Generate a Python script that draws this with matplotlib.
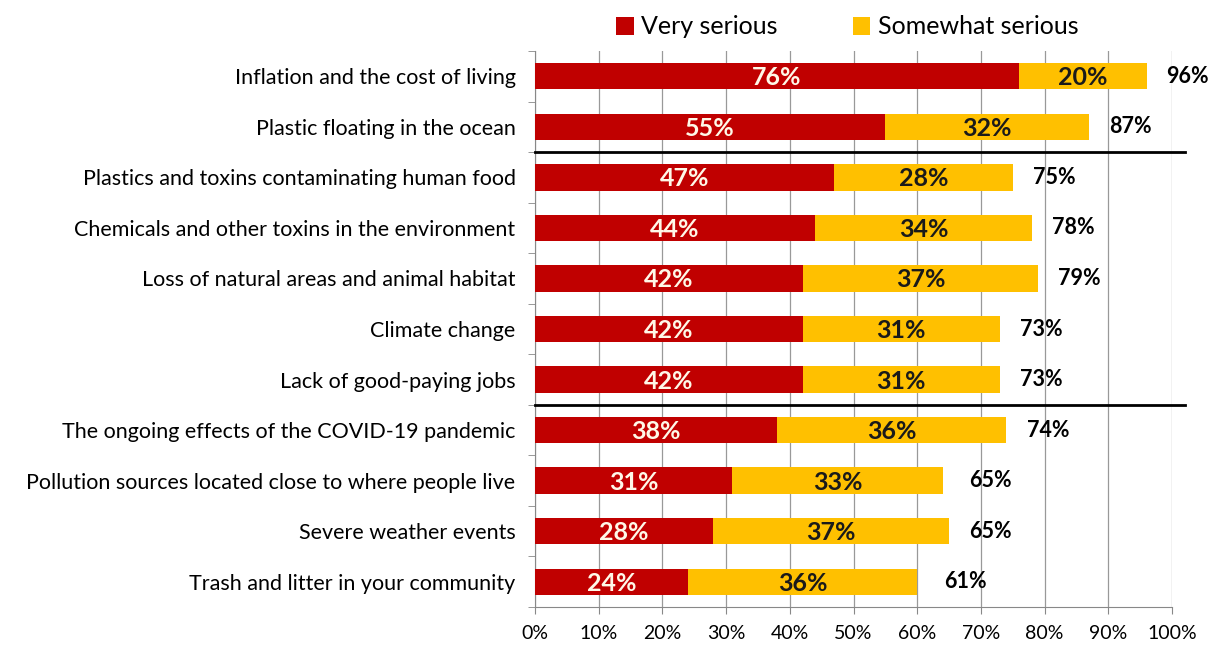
import numpy as np
import matplotlib.pyplot as plt

# survey data, top to bottom
issues = ["Inflation and the cost of living",
          "Plastic floating in the ocean",
          "Plastics and toxins contaminating human food",
          "Chemicals and other toxins in the environment",
          "Loss of natural areas and animal habitat",
          "Climate change",
          "Lack of good-paying jobs",
          "The ongoing effects of the COVID-19 pandemic",
          "Pollution sources located close to where people live",
          "Severe weather events",
          "Trash and litter in your community"]
very = [76, 55, 47, 44, 42, 42, 42, 38, 31, 28, 24]
somewhat = [20, 32, 28, 34, 37, 31, 31, 36, 33, 37, 36]
total = [96, 87, 75, 78, 79, 73, 73, 74, 65, 65, 61]

RED = "#C00000"
YEL = "#FFC000"
plt.rcParams['font.family'] = ['Lato', 'DejaVu Sans']

fig = plt.figure(figsize=(12.12, 6.48), dpi=100)
ax = fig.add_axes([535/1212, 1 - 607/648, 637/1212, 556/648])

y = np.arange(len(issues))
ax.barh(y, very, height=0.52, color=RED, label="Very serious", zorder=3)
ax.barh(y, somewhat, left=very, height=0.52, color=YEL, label="Somewhat serious", zorder=3)

for i in range(len(issues)):
    ax.text(very[i] / 2, i + 0.03, f"{very[i]}%", ha="center", va="center",
            color="#FFF8E8", fontsize=18, fontweight="bold", zorder=4)
    ax.text(very[i] + somewhat[i] / 2, i + 0.03, f"{somewhat[i]}%", ha="center", va="center",
            color="#1a1a1a", fontsize=18, fontweight="bold", zorder=4)
    ax.text(total[i] + 6.5, i, f"{total[i]}%", ha="center", va="center",
            color="black", fontsize=15.5, fontweight="bold", zorder=4)

ax.set_xlim(0, 100)
ax.set_ylim(len(issues) - 0.5, -0.5)
ax.set_xticks(np.arange(0, 101, 10))
ax.set_xticklabels([f"{v}%" for v in range(0, 101, 10)], fontsize=14)
ax.set_yticks(y)
ax.set_yticklabels(issues, fontsize=15.5)
ax.set_yticks(np.arange(-0.5, len(issues), 1), minor=True)
ax.tick_params(axis="y", which="major", length=0, pad=14)
ax.tick_params(axis="y", which="minor", length=5, direction="out", color="#888888")
ax.tick_params(axis="x", length=5, color="#888888", pad=8)
ax.grid(axis="x", color="#999999", linewidth=0.9, zorder=0)
for s in ["top", "right"]:
    ax.spines[s].set_visible(False)
ax.spines["left"].set_color("#888888")
ax.spines["bottom"].set_color("#888888")

# group dividers
for yy in [1.5, 6.5]:
    ax.plot([0, 102], [yy, yy], color="black", linewidth=2, clip_on=False, zorder=5)

ax.legend(loc="lower center", bbox_to_anchor=(0.49, 1.0), ncol=2, frameon=False,
          fontsize=18, handlelength=0.7, handleheight=0.7, handletextpad=0.3,
          columnspacing=3, borderaxespad=0.1)

fig.savefig("out.png", dpi=100, facecolor="white")
